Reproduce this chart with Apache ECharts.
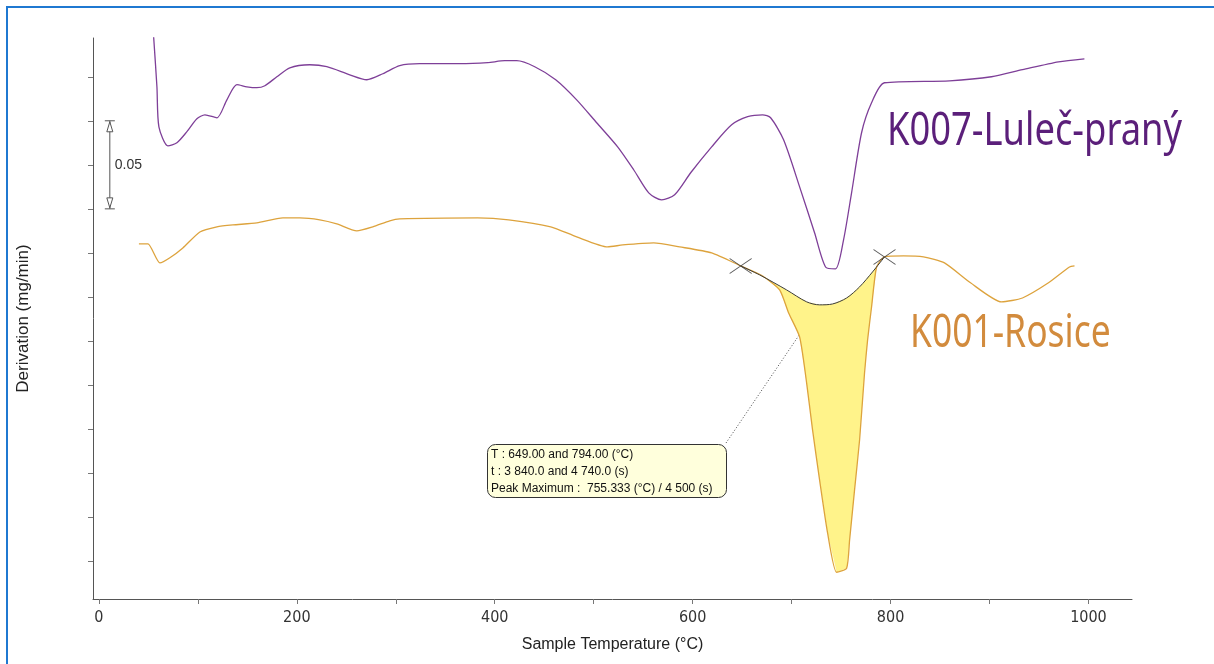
<!DOCTYPE html>
<html>
<head>
<meta charset="utf-8">
<script src="https://cdn.jsdelivr.net/npm/echarts@6/dist/echarts.min.js"></script>
<style>
  html, body { margin: 0; padding: 0; background: #fff; }
  #main { width: 1214px; height: 664px; }
</style>
</head>
<body>
<div id="main"></div>
<script>
// DTG curves, derivation (curves offset for display)
const k007Temp = [55.0, 58.6, 60.6, 69.7, 78.8, 88.9, 99.0, 107.1, 119.2, 129.3, 139.4, 149.5, 159.6, 167.7, 179.8, 192.9, 213.1, 230.3, 253.5, 270.7, 286.9, 304.0, 324.2, 364.6, 392.9, 410.1, 422.2, 440.4, 461.6, 482.8, 503.0, 524.2, 540.4, 555.6, 568.7, 581.8, 598.0, 619.2, 639.4, 655.6, 670.7, 678.8, 691.9, 708.1, 723.2, 734.3, 744.4, 752.5, 760.6, 770.7, 780.8, 793.9, 859.6, 902.0, 933.3, 969.7, 995.9]
const k007Deriv = [0.300, 0.2693, 0.2466, 0.2358, 0.2375, 0.2438, 0.2511, 0.2534, 0.2517, 0.2619, 0.2705, 0.2693, 0.2688, 0.2699, 0.2750, 0.2801, 0.2818, 0.2807, 0.2761, 0.2733, 0.2767, 0.2813, 0.2824, 0.2824, 0.2830, 0.2841, 0.2841, 0.2807, 0.2733, 0.2619, 0.2489, 0.2352, 0.2222, 0.2091, 0.2051, 0.2080, 0.2205, 0.2352, 0.2477, 0.2523, 0.2534, 0.2517, 0.2392, 0.2125, 0.1864, 0.1670, 0.1659, 0.1824, 0.2091, 0.2432, 0.2602, 0.2716, 0.2727, 0.2750, 0.2790, 0.2835, 0.2852]

const k001Temp = [40.4, 49.5, 61.6, 71.7, 84.8, 102.0, 119.2, 135.4, 159.6, 185.9, 203.0, 223.2, 240.4, 260.6, 276.8, 293.9, 304.0, 382.8, 414.1, 456.6, 482.8, 514.1, 529.3, 560.6, 586.9, 619.2, 648.5, 670.7, 687.9, 697.0, 708.1, 715.2, 721.2, 728.3, 736.4, 745.5, 755.6, 758.6, 763.6, 768.7, 773.7, 776.8, 780.8, 785.9, 793.9, 813.1, 833.3, 854.5, 880.8, 912.1, 933.3, 959.6, 980.8, 985.9]
const k001Deriv = [0.1801, 0.1801, 0.1693, 0.1722, 0.1778, 0.1869, 0.1898, 0.1909, 0.1920, 0.1949, 0.1949, 0.1938, 0.1915, 0.1875, 0.1898, 0.1932, 0.1943, 0.1949, 0.1938, 0.1898, 0.1841, 0.1784, 0.1795, 0.1807, 0.1784, 0.1750, 0.1676, 0.1619, 0.1540, 0.1409, 0.1273, 0.1011, 0.0744, 0.0460, 0.0159, -0.0063, -0.0040, 0.0119, 0.0403, 0.0688, 0.1068, 0.1256, 0.1443, 0.1670, 0.1727, 0.1733, 0.1727, 0.1693, 0.1580, 0.1472, 0.1494, 0.1580, 0.1670, 0.1676]

// integration baseline of the K001 peak (649 - 794 °C)
const peakBaseTemp = [648.5, 667.7, 694.9, 715.2, 728.3, 741.4, 755.6, 768.7, 781.8, 793.9]
const peakBaseDeriv = [0.1676, 0.1625, 0.1540, 0.1472, 0.1455, 0.1460, 0.1494, 0.1557, 0.1642, 0.1727]

const xTickValues = [0, 100, 200, 300, 400, 500, 600, 700, 800, 900, 1000]
const xLabelValues = [0, 200, 400, 600, 800, 1000]
const yTickValues = [0, 0.025, 0.05, 0.075, 0.1, 0.125, 0.15, 0.175, 0.2, 0.225, 0.25, 0.275]

// scale bar: 0.05 mg/min
const scaleBarTemp = 11
const scaleBarRange = [0.2, 0.25]

const annotationLines = [
  'T : 649.00 and 794.00 (°C)',
  't : 3 840.0 and 4 740.0 (s)',
  'Peak Maximum :  755.333 (°C) / 4 500 (s)',
]

const zip = (xs, ys) => xs.map((x, i) => [x, ys[i]])
const k007Data = zip(k007Temp, k007Deriv)
const k001Data = zip(k001Temp, k001Deriv)
const baseData = zip(peakBaseTemp, peakBaseDeriv)
const peakStart = peakBaseTemp[0]
const peakEnd = peakBaseTemp[peakBaseTemp.length - 1]
const peakCurve = k001Data.filter(p => p[0] >= peakStart && p[0] <= peakEnd)
const peakPolygon = peakCurve.concat(baseData.slice().reverse())

const axisFont = '"Liberation Sans Narrow", "DejaVu Sans Condensed", sans-serif'
const textFont = '"Liberation Sans", Arial, sans-serif'

const chartDom = document.getElementById('main')
const myChart = echarts.init(chartDom)

const option = {
  animation: false,
  grid: { left: 93, right: 82, top: 38, bottom: 65 },
  xAxis: {
    type: 'value',
    min: -6,
    max: 1044,
    name: 'Sample Temperature (°C)',
    nameLocation: 'middle',
    nameGap: 38,
    nameTextStyle: { fontFamily: textFont, fontSize: 16, color: '#222' },
    axisLine: { onZero: false, lineStyle: { color: '#555', width: 1 } },
    axisTick: { customValues: xTickValues, length: 5, lineStyle: { color: '#777' } },
    axisLabel: {
      customValues: xLabelValues,
      formatter: v => String(v),
      fontFamily: axisFont,
      fontSize: 16,
      color: '#333',
      margin: 11,
    },
    splitLine: { show: false },
  },
  yAxis: {
    type: 'value',
    min: -0.0215,
    max: 0.297,
    name: 'Derivation (mg/min)',
    nameLocation: 'middle',
    nameGap: 61,
    nameTextStyle: { fontFamily: textFont, fontSize: 17, color: '#222' },
    axisLine: { show: true, onZero: false, lineStyle: { color: '#555', width: 1 } },
    axisTick: { show: true, customValues: yTickValues, length: 5, lineStyle: { color: '#777' } },
    axisLabel: { show: false },
    splitLine: { show: false },
  },
  series: [
    {
      // yellow peak area between curve and baseline
      type: 'custom',
      z: 1,
      silent: true,
      data: [0],
      renderItem: (params, api) => ({
        type: 'polygon',
        shape: { points: peakPolygon.map(p => api.coord(p)), smooth: 0 },
        style: { fill: '#fff38a', stroke: null },
      }),
    },
    {
      name: 'K007-Luleč-praný',
      type: 'line',
      z: 3,
      data: k007Data,
      showSymbol: false,
      smooth: 0.25,
      lineStyle: { color: '#7e3f98', width: 1.3 },
    },
    {
      name: 'K001-Rosice',
      type: 'line',
      z: 3,
      data: k001Data,
      showSymbol: false,
      smooth: 0.2,
      lineStyle: { color: '#dda33d', width: 1.3 },
    },
    {
      name: 'baseline',
      type: 'line',
      z: 4,
      data: baseData,
      showSymbol: false,
      smooth: 0.3,
      lineStyle: { color: '#3a3a3a', width: 1 },
    },
    {
      type: 'scatter',
      z: 5,
      data: [baseData[0], baseData[baseData.length - 1]],
      symbol: 'path://M0,0L22,15M22,0L0,15',
      symbolSize: [22, 15],
      itemStyle: { color: 'transparent', borderColor: '#333', borderWidth: 1 },
    },
  ],
}
option && myChart.setOption(option)

// annotations placed through the chart's own scales
const sbTop = myChart.convertToPixel({ gridIndex: 0 }, [scaleBarTemp, scaleBarRange[1]])
const sbBot = myChart.convertToPixel({ gridIndex: 0 }, [scaleBarTemp, scaleBarRange[0]])
const leaderEnd = myChart.convertToPixel({ gridIndex: 0 }, baseData[4])
const sx = sbTop[0]
const barColor = '#555'

myChart.setOption({
  graphic: [
    {
      type: 'polyline',
      silent: true,
      shape: { points: [[7, 670], [7, 7], [1220, 7]] },
      style: { stroke: '#1f78d1', lineWidth: 2, fill: null },
    },
    // scale bar
    { type: 'line', shape: { x1: sx, y1: sbTop[1], x2: sx, y2: sbBot[1] }, style: { stroke: barColor, lineWidth: 1 } },
    { type: 'line', shape: { x1: sx - 5, y1: sbTop[1], x2: sx + 5, y2: sbTop[1] }, style: { stroke: barColor, lineWidth: 1 } },
    { type: 'line', shape: { x1: sx - 5, y1: sbBot[1], x2: sx + 5, y2: sbBot[1] }, style: { stroke: barColor, lineWidth: 1 } },
    {
      type: 'polygon',
      shape: { points: [[sx, sbTop[1] + 1], [sx - 3, sbTop[1] + 11], [sx + 3, sbTop[1] + 11]] },
      style: { fill: '#fff', stroke: barColor, lineWidth: 1 },
    },
    {
      type: 'polygon',
      shape: { points: [[sx, sbBot[1] - 1], [sx - 3, sbBot[1] - 11], [sx + 3, sbBot[1] - 11]] },
      style: { fill: '#fff', stroke: barColor, lineWidth: 1 },
    },
    {
      type: 'text',
      x: sx + 5,
      y: (sbTop[1] + sbBot[1]) / 2,
      style: { text: '0.05', font: '14px ' + textFont, fill: '#333', textVerticalAlign: 'middle' },
    },
    // series labels
    {
      type: 'text',
      x: 887,
      y: 132,
      scaleX: 0.79,
      style: { text: 'K007-Luleč-praný', font: '46px "Noto Sans", "Open Sans", sans-serif', fill: '#5b1f7a', textVerticalAlign: 'middle' },
    },
    {
      type: 'text',
      x: 910,
      y: 334,
      scaleX: 0.77,
      style: { text: 'K001-Rosice', font: '46px "Noto Sans", "Open Sans", sans-serif', fill: '#d28b3d', textVerticalAlign: 'middle' },
    },
    // peak annotation
    {
      type: 'line',
      shape: { x1: 726, y1: 443, x2: leaderEnd[0], y2: leaderEnd[1] },
      style: { stroke: '#444', lineWidth: 1, lineDash: [1, 2] },
    },
    {
      type: 'rect',
      shape: { x: 487.5, y: 444.5, width: 239, height: 53, r: 8 },
      style: { fill: '#ffffdc', stroke: '#333', lineWidth: 1 },
    },
    {
      type: 'text',
      x: 491,
      y: 446,
      style: { text: annotationLines.join('\n'), font: '12px ' + textFont, fill: '#111', lineHeight: 17, textVerticalAlign: 'top' },
    },
  ],
})
</script>
</body>
</html>
